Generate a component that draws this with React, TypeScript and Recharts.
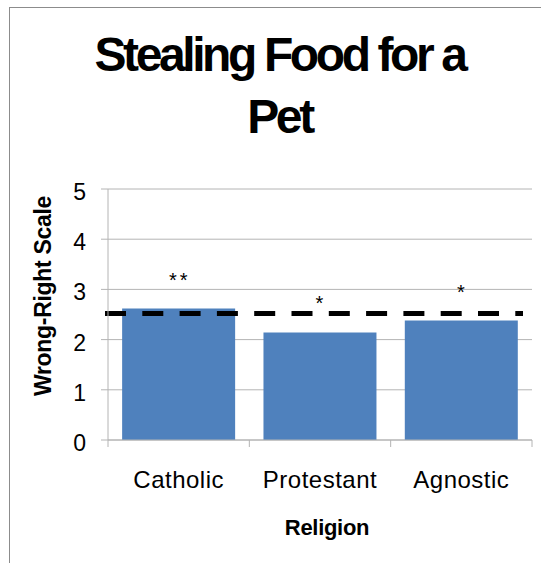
import { ComposedChart, Bar, Scatter, XAxis, YAxis, CartesianGrid, ReferenceLine, Label } from 'recharts'

const religions = ['Catholic', 'Protestant', 'Agnostic']
const meanScores = [2.62, 2.14, 2.38]
const markerHeights = [3.26, 2.8, 3.03]
const markerText = ['**', '*', '*']
const yTicks = [0, 1, 2, 3, 4, 5]
const midpoint = 2.52

const W = 541
const H = 563
const PLOT_LEFT = 108
const PLOT_RIGHT = 532
const PLOT_TOP = 189
const PLOT_BOTTOM = 440
const Y_AXIS_W = 60
const X_AXIS_H = 100
const HALF_BAND = (PLOT_RIGHT - PLOT_LEFT) / religions.length / 2

const GRID = '#b4b4b4'
const FONT = '"Liberation Sans", Arial, sans-serif'

const data = religions.map((name, i) => ({
  name,
  score: meanScores[i],
  marker: markerHeights[i],
  text: markerText[i],
}))

function CategoryTick(props: any) {
  const { x, payload, index } = props
  return (
    <g>
      <line x1={x - HALF_BAND} x2={x - HALF_BAND} y1={PLOT_BOTTOM} y2={PLOT_BOTTOM + 7} stroke={GRID} />
      {index === religions.length - 1 && (
        <line x1={x + HALF_BAND} x2={x + HALF_BAND} y1={PLOT_BOTTOM} y2={PLOT_BOTTOM + 7} stroke={GRID} />
      )}
      <text x={x} y={PLOT_BOTTOM + 48} textAnchor="middle" fontSize={24} fontFamily={FONT} letterSpacing={0.5} fill="#000">
        {payload.value}
      </text>
    </g>
  )
}

function ValueTick(props: any) {
  const { x, y, payload } = props
  return (
    <text x={x} y={y + 11} textAnchor="end" fontSize={23} fontFamily={FONT} fill="#000">
      {payload.value}
    </text>
  )
}

function StarMark(props: any) {
  const { cx, cy, payload } = props
  return (
    <text x={cx + 1} y={cy + 11} textAnchor="middle" fontSize={20} fontFamily={FONT} fill="#000" letterSpacing={3}>
      {payload.text}
    </text>
  )
}

function DashedMean(props: any) {
  const { x1, x2, y1, y2 } = props
  return (
    <line
      x1={x1 - 3}
      x2={x2 - 9}
      y1={y1}
      y2={y2}
      stroke="#000"
      strokeWidth={5}
      strokeDasharray="21 16.3"
    />
  )
}

export default function App() {
  return (
    <div style={{ position: 'absolute', left: 0, top: 0, width: W, height: H, background: '#fff', overflow: 'hidden' }}>
      <div
        style={{
          position: 'absolute',
          left: 9,
          top: 7,
          width: W,
          height: H,
          borderTop: '1px solid #8c8c8c',
          borderLeft: '1px solid #8c8c8c',
        }}
      />
      <div
        style={{
          position: 'absolute',
          left: 9,
          top: 24,
          width: W,
          textAlign: 'center',
          fontFamily: FONT,
          fontWeight: 'bold',
          fontSize: 48,
          lineHeight: '62px',
          letterSpacing: -3.4,
          color: '#000',
        }}
      >
        Stealing Food for a
        <br />
        Pet
      </div>
      <div style={{ position: 'absolute', left: 0, top: 0 }}>
        <ComposedChart
          width={W}
          height={H}
          data={data}
          barCategoryGap="10%"
          margin={{
            top: PLOT_TOP,
            right: W - PLOT_RIGHT,
            left: PLOT_LEFT - Y_AXIS_W,
            bottom: H - PLOT_BOTTOM - X_AXIS_H,
          }}
        >
          <CartesianGrid vertical={false} stroke={GRID} />
          <XAxis
            dataKey="name"
            height={X_AXIS_H}
            stroke={GRID}
            tickLine={false}
            tick={<CategoryTick />}
            interval={0}
          >
            <Label
              content={() => (
                <text
                  x={327}
                  y={535}
                  textAnchor="middle"
                  fontSize={22}
                  fontWeight="bold"
                  fontFamily={FONT}
                  letterSpacing={-0.3}
                  fill="#000"
                >
                  Religion
                </text>
              )}
            />
          </XAxis>
          <YAxis
            width={Y_AXIS_W}
            domain={[0, 5]}
            ticks={yTicks}
            interval={0}
            stroke={GRID}
            tickSize={7}
            tickMargin={15}
            tick={<ValueTick />}
          >
            <Label
              content={() => (
                <text
                  x={43}
                  y={296}
                  transform="rotate(-90 43 296)"
                  textAnchor="middle"
                  dominantBaseline="central"
                  fontSize={23}
                  fontWeight="bold"
                  fontFamily={FONT}
                  letterSpacing={-0.3}
                  fill="#000"
                >
                  Wrong-Right Scale
                </text>
              )}
            />
          </YAxis>
          <Bar dataKey="score" fill="#4f81bd" isAnimationActive={false} />
          <ReferenceLine y={midpoint} shape={<DashedMean />} />
          <Scatter dataKey="marker" shape={<StarMark />} isAnimationActive={false} />
        </ComposedChart>
      </div>
    </div>
  )
}
